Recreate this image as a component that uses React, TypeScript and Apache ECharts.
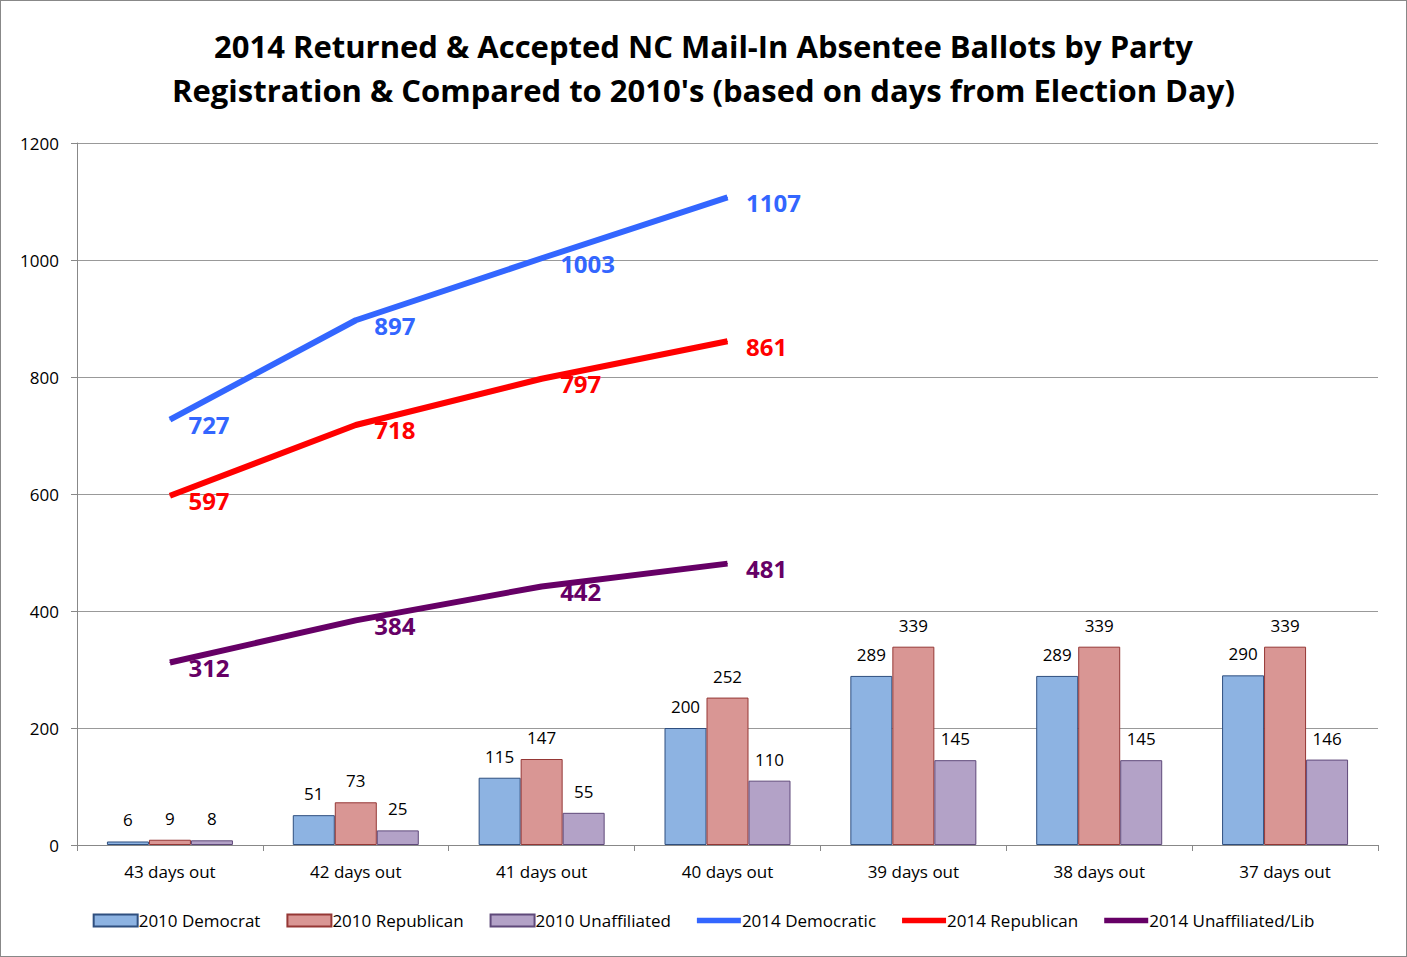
import { useEffect, useRef } from "react";
import * as echarts from "echarts";

const categories = ["43 days out", "42 days out", "41 days out", "40 days out", "39 days out", "38 days out", "37 days out"];
const dem2010 = [6, 51, 115, 200, 289, 289, 290];
const rep2010 = [9, 73, 147, 252, 339, 339, 339];
const una2010 = [8, 25, 55, 110, 145, 145, 146];
const dem2014 = [727, 897, 1003, 1107];
const rep2014 = [597, 718, 797, 861];
const una2014 = [312, 384, 442, 481];

const font = "Open Sans, sans-serif";

export default function App() {
  const ref = useRef<HTMLDivElement>(null);
  useEffect(() => {
    if (!ref.current) return;
    const ch = echarts.init(ref.current, undefined, { renderer: "svg" });
    const bar = (name: string, data: number[], color: string, border: string) => ({
      name, type: "bar", data, barWidth: 42, barGap: "0%",
      itemStyle: { color, borderColor: border, borderWidth: 1 },
      label: { show: true, position: "top", color: "#000", fontSize: 17, fontFamily: font, distance: 13 },
    });
    const line = (name: string, data: number[], color: string) => ({
      name, type: "line", data, symbol: "circle", symbolSize: 1, showSymbol: true,
      lineStyle: { color, width: 6 }, itemStyle: { color },
      label: { show: true, position: "right", distance: 18, offset: [0, 5], color, fontSize: 24, fontWeight: "bold", fontFamily: font },
      z: 5,
    });
    const lineIcon = "path://M0,0 L40,0 L40,5 L0,5Z";
    ch.setOption({
      animation: false,
      title: {
        text: "2014 Returned & Accepted NC Mail-In Absentee Ballots by Party\nRegistration & Compared to 2010's (based on days from Election Day)",
        left: "center", top: 18,
        textStyle: { fontSize: 31, fontWeight: "bold", fontFamily: font, color: "#000", lineHeight: 44 },
      },
      grid: { left: 76, right: 28, top: 142, bottom: 111 },
      legend: {
        bottom: 22, left: "center", itemGap: 26, itemWidth: 44, itemHeight: 12,
        textStyle: { fontSize: 17, fontFamily: font, color: "#000", padding: [0, 0, 0, -4] },
        data: [
          { name: "2010 Democrat", icon: "rect" },
          { name: "2010 Republican", icon: "rect" },
          { name: "2010 Unaffiliated", icon: "rect" },
          { name: "2014 Democratic", icon: lineIcon },
          { name: "2014 Republican", icon: lineIcon },
          { name: "2014 Unaffiliated/Lib", icon: lineIcon },
        ],
      },
      xAxis: {
        type: "category", data: categories,
        axisLine: { lineStyle: { color: "#888" } },
        axisTick: { show: true, length: 6, lineStyle: { color: "#888" } },
        axisLabel: { fontSize: 17, fontFamily: font, color: "#000", margin: 18 },
      },
      yAxis: {
        type: "value", min: 0, max: 1200, interval: 200,
        axisLine: { show: true, lineStyle: { color: "#888" } },
        axisTick: { show: true, length: 6, lineStyle: { color: "#888" } },
        axisLabel: { fontSize: 17, fontFamily: font, color: "#000", margin: 18, formatter: (v: number) => String(v) },
        splitLine: { lineStyle: { color: "#999" } },
      },
      series: [
        bar("2010 Democrat", dem2010, "#8DB3E2", "#2F4F7F"),
        bar("2010 Republican", rep2010, "#D99694", "#953735"),
        bar("2010 Unaffiliated", una2010, "#B3A2C7", "#5F497A"),
        line("2014 Democratic", dem2014, "#3366FF"),
        line("2014 Republican", rep2014, "#FF0000"),
        line("2014 Unaffiliated/Lib", una2014, "#660066"),
      ],
    });
    return () => ch.dispose();
  }, []);
  return (
    <div ref={ref} style={{ position: "fixed", left: 0, top: 0, width: 1405, height: 955, border: "1px solid #888", background: "#fff" }} />
  );
}
